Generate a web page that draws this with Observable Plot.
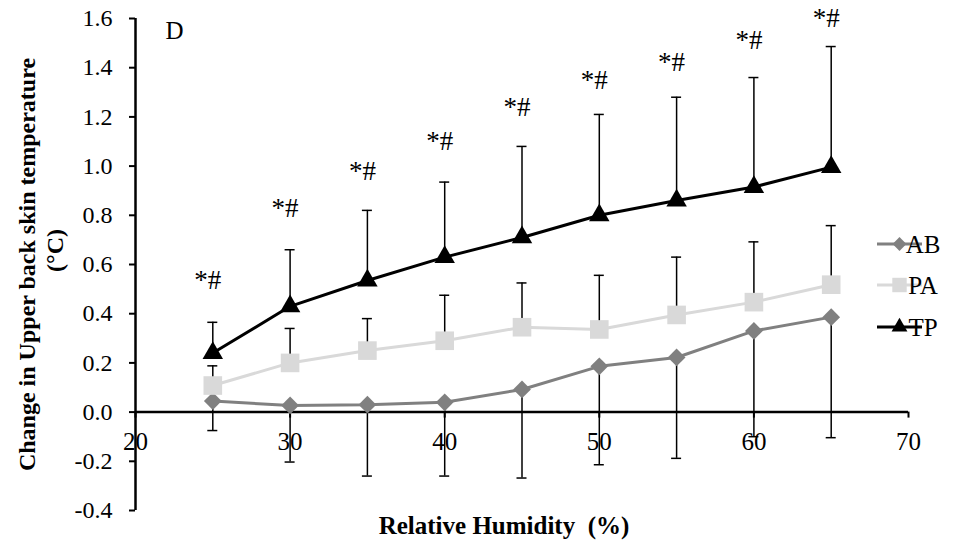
<!DOCTYPE html>
<html><head><meta charset="utf-8">
<script src="https://cdn.jsdelivr.net/npm/d3@7"></script>
<script src="https://cdn.jsdelivr.net/npm/@observablehq/plot@0.6"></script>
<style>
html,body{margin:0;padding:0;background:#fff;}
#chart{width:979px;height:547px;}
#chart svg text{font-family:'Liberation Serif','Times New Roman',serif;}
</style></head><body><div id="chart"></div>
<script>
// ---- data ----
const humidity = [25, 30, 35, 40, 45, 50, 55, 60, 65];
const abMean = [0.045, 0.027, 0.030, 0.040, 0.092, 0.186, 0.222, 0.330, 0.386];
const abSD   = [0.12, 0.23, 0.29, 0.30, 0.36, 0.40, 0.41, 0.43, 0.49];
const paMean = [0.108, 0.200, 0.250, 0.290, 0.345, 0.336, 0.395, 0.447, 0.518];
const paSD   = [0.08, 0.14, 0.13, 0.185, 0.18, 0.22, 0.235, 0.245, 0.24];
const tpMean = [0.240, 0.430, 0.535, 0.630, 0.710, 0.800, 0.860, 0.915, 0.996];
const tpSD   = [0.125, 0.23, 0.285, 0.305, 0.37, 0.41, 0.42, 0.445, 0.49];
const sigText = "*#";
const sigY   = [0.535, 0.83, 0.98, 1.10, 1.24, 1.35, 1.42, 1.51, 1.60];
const xTicks = [20, 30, 40, 50, 60, 70];
const yTicks = [-0.4, -0.2, 0.0, 0.2, 0.4, 0.6, 0.8, 1.0, 1.2, 1.4, 1.6];
const seriesNames = ["AB", "PA", "TP"];
const seriesColors = ["#808080", "#d9d9d9", "#000000"];
const seriesSymbols = ["diamond2", "square", "triangle"];
const xLabel = "Relative Humidity  (%)";
const yLabel1 = "Change in Upper back skin temperature";
const yLabel2 = "(°C)";
const panelLetter = "D";

// ---- layout ----
const W = 979, H = 547, mL = 135, mR = 71, mT = 18, mB = 37;
const xDom = [20, 70], yDom = [-0.4, 1.6];
const pxX = (W - mL - mR) / (xDom[1] - xDom[0]);
const pxY = (H - mT - mB) / (yDom[1] - yDom[0]);
const tickLen = 6 / pxY;
const capHalf = 5 / pxX;
const FONT = "'Liberation Serif', 'Times New Roman', serif";

const rows = humidity.map((h, i) => ({
  h, ab: abMean[i], abSD: abSD[i], pa: paMean[i], paSD: paSD[i],
  tp: tpMean[i], tpSD: tpSD[i], sig: sigY[i]
}));

function series(key, sdKey, dir, color, symbol, r) {
  const end = d => d[key] + dir * d[sdKey];
  return [
    Plot.ruleX(rows, {x: "h", y1: key, y2: end, stroke: "#000", strokeWidth: 1.5}),
    Plot.ruleY(rows, {y: end, x1: d => d.h - capHalf, x2: d => d.h + capHalf, stroke: "#000", strokeWidth: 1.5}),
    Plot.line(rows, {x: "h", y: key, stroke: color, strokeWidth: 3}),
    Plot.dot(rows, {x: "h", y: key, symbol, r, fill: color, stroke: "none"})
  ];
}

const chart = Plot.plot({
  width: W, height: H,
  marginLeft: mL, marginRight: mR, marginTop: mT, marginBottom: mB,
  style: {fontFamily: FONT, fontSize: "20px", background: "#fff", color: "#000", overflow: "visible"},
  x: {domain: xDom, axis: null},
  y: {domain: yDom, axis: null},
  marks: [
    Plot.ruleY([0], {x1: xDom[0], x2: xDom[1], stroke: "#000", strokeWidth: 2.5}),
    Plot.ruleX([xDom[0]], {y1: yDom[0], y2: yDom[1], stroke: "#000", strokeWidth: 2.5}),
    Plot.ruleX(xTicks, {x: d => d, y1: 0, y2: -tickLen, stroke: "#000", strokeWidth: 2}),
    Plot.axisY(yTicks, {anchor: "left", tickSize: 6, tickPadding: 17, strokeWidth: 2,
      tickFormat: d => d.toFixed(1), fontSize: 24, fill: "#000"}),
    Plot.text(xTicks, {x: d => d, y: 0, dy: 30, text: d => String(d), fontSize: 25, fill: "#000"}),
    ...series("ab", "abSD", -1, seriesColors[0], seriesSymbols[0], 8),
    ...series("pa", "paSD", 1, seriesColors[1], seriesSymbols[1], 10.5),
    ...series("tp", "tpSD", 1, seriesColors[2], seriesSymbols[2], 7.6),
    Plot.text(rows, {x: "h", y: "sig", text: () => sigText, dx: -5, fontSize: 27, fill: "#000"}),
    Plot.text([panelLetter], {frameAnchor: "top-left", dx: 30, dy: 12, textAnchor: "start", lineAnchor: "middle", fontSize: 25, fill: "#000"}),
    Plot.text([yLabel1], {frameAnchor: "left", dx: -108, rotate: -90, textAnchor: "middle", lineAnchor: "middle", fontSize: 24, fontWeight: "bold", fill: "#000"}),
    Plot.text([yLabel2], {frameAnchor: "left", dx: -80, dy: -14, rotate: -90, textAnchor: "middle", lineAnchor: "middle", fontSize: 24, fontWeight: "bold", fill: "#000"}),
    Plot.text([xLabel], {frameAnchor: "bottom", dx: -18, dy: 15, textAnchor: "middle", lineAnchor: "middle", fontSize: 25, fontWeight: "bold", fill: "#000"})
  ]
});

// legend (outside the plot frame, on the right)
const svg = d3.select(chart);
const legendY = [244, 285, 327];
const legendSizes = [8, 10.5, 7.6];
const lg = svg.append("g").attr("font-family", FONT).attr("font-size", 25);
seriesNames.forEach((name, i) => {
  const y = legendY[i];
  lg.append("line").attr("x1", 877).attr("x2", 922).attr("y1", y).attr("y2", y)
    .attr("stroke", seriesColors[i]).attr("stroke-width", 3);
  const sym = {diamond2: d3.symbolDiamond2, square: d3.symbolSquare, triangle: d3.symbolTriangle}[seriesSymbols[i]];
  const size = Math.PI * legendSizes[i] * legendSizes[i] * 0.6;
  lg.append("path").attr("d", d3.symbol(sym, size)()).attr("transform", `translate(899.5,${y})`)
    .attr("fill", seriesColors[i]);
  lg.append("text").attr("x", 923).attr("y", y).attr("dy", "0.35em").attr("fill", "#000").text(name);
});

document.getElementById("chart").appendChild(chart);
</script>
</body></html>
